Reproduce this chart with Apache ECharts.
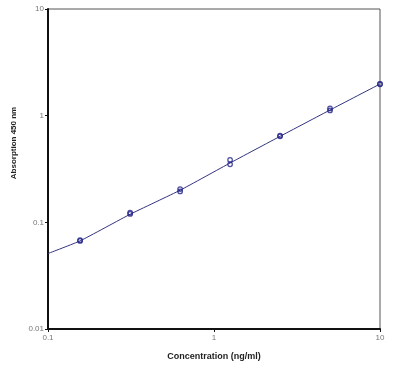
<!DOCTYPE html>
<html>
<head>
<meta charset="utf-8">
<script src="https://cdn.jsdelivr.net/npm/echarts@6/dist/echarts.min.js"></script>
<style>html,body{margin:0;padding:0;background:#fff;}#c{width:399px;height:369px;}</style>
</head>
<body>
<div id="c"></div>
<script>
// Concentration (ng/ml) of each measured point (duplicates)
var concentrations = [0.156, 0.156, 0.3125, 0.3125, 0.625, 0.625, 1.25, 1.25, 2.5, 2.5, 5, 5, 10, 10];
var absorbances    = [0.067, 0.068, 0.120, 0.123, 0.195, 0.205, 0.350, 0.385, 0.640, 0.650, 1.12, 1.17, 1.97, 1.99];
// Fitted curve
var fitX = [0.1, 0.156, 0.3125, 0.625, 1.25, 2.5, 5, 10];
var fitY = [0.051, 0.067, 0.119, 0.200, 0.360, 0.640, 1.13, 1.98];
var xTicks = [0.1, 1, 10];
var yTicks = [0.01, 0.1, 1, 10];

var points = concentrations.map(function (c, i) { return [c, absorbances[i]]; });
var fit = fitX.map(function (c, i) { return [c, fitY[i]]; });

var chart = echarts.init(document.getElementById('c'), null, {renderer: 'canvas'});
var labelStyle = {color: '#777', fontSize: 8, fontFamily: 'Liberation Sans, Arial, sans-serif'};
chart.setOption({
  animation: false,
  backgroundColor: '#fff',
  grid: {left: 48, top: 9, right: 19, bottom: 40, show: true, borderColor: '#555', borderWidth: 1},
  xAxis: {
    type: 'log', logBase: 10, min: 0.1, max: 10,
    name: 'Concentration (ng/ml)', nameLocation: 'middle', nameGap: 23,
    nameTextStyle: {fontSize: 9, fontWeight: 'bold', color: '#222', fontFamily: 'Liberation Sans, Arial, sans-serif'},
    axisLine: {show: true, lineStyle: {color: '#111', width: 2}},
    axisTick: {show: true, length: 3, lineStyle: {color: '#111', width: 1}},
    minorTick: {show: false},
    splitLine: {show: false},
    axisLabel: Object.assign({margin: 5, formatter: function (v) { return xTicks.indexOf(+v) >= 0 ? String(+v) : ''; }}, labelStyle)
  },
  yAxis: {
    type: 'log', logBase: 10, min: 0.01, max: 10,
    name: 'Absorption 450 nm', nameLocation: 'middle', nameGap: 24, nameRotate: 90,
    nameTextStyle: {fontSize: 8, fontWeight: 'bold', color: '#222', padding: [0, 0, 0, 52], fontFamily: 'Liberation Sans, Arial, sans-serif'},
    axisLine: {show: true, lineStyle: {color: '#111', width: 2}},
    axisTick: {show: true, length: 3, lineStyle: {color: '#111', width: 1}},
    splitLine: {show: false},
    axisLabel: Object.assign({margin: 4, formatter: function (v) { return yTicks.indexOf(+v) >= 0 ? String(+v) : ''; }}, labelStyle)
  },
  series: [
    {
      type: 'line', data: fit, smooth: 0.15, showSymbol: false, symbol: 'none',
      lineStyle: {color: '#33337f', width: 1}, z: 2
    },
    {
      type: 'scatter', data: points, symbol: 'circle', symbolSize: 4.5,
      itemStyle: {color: 'rgba(255,255,255,0)', borderColor: '#23238a', borderWidth: 1.3}, z: 3
    }
  ]
});
</script>
</body>
</html>
